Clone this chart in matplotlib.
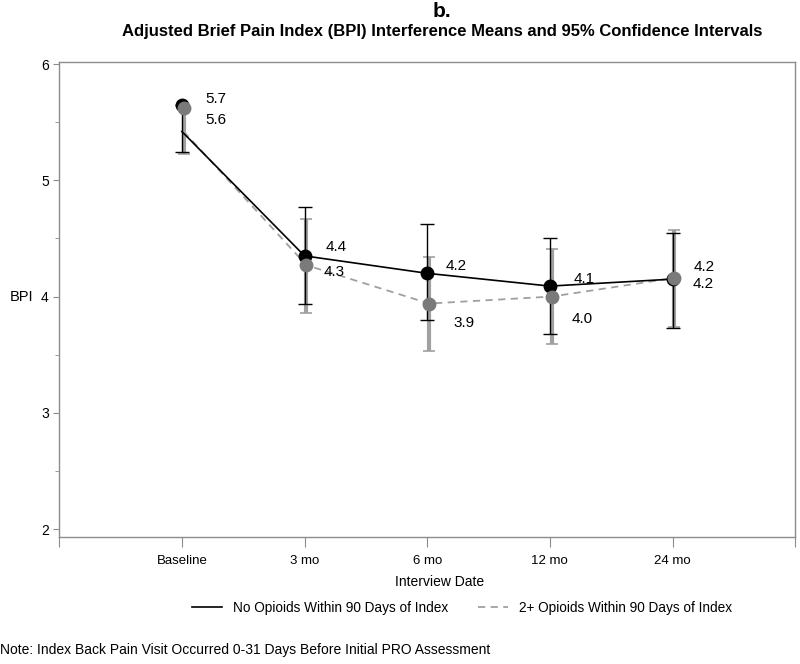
import matplotlib
matplotlib.use("Agg")
import matplotlib.pyplot as plt
from matplotlib.lines import Line2D

plt.rcParams['font.family'] = ['Liberation Sans', 'DejaVu Sans']

# data
timepoints = ["Baseline", "3 mo", "6 mo", "12 mo", "24 mo"]
x_pos = [1, 2, 3, 4, 5]

no_mean = [5.65, 4.35, 4.20, 4.09, 4.15]
no_lower = [5.24, 3.94, 3.80, 3.68, 3.73]
no_upper = [5.65, 4.77, 4.62, 4.50, 4.55]
no_line = [5.42, 4.35, 4.20, 4.09, 4.15]
no_labels = ["5.7", "4.4", "4.2", "4.1", "4.2"]

op_mean = [5.62, 4.27, 3.94, 4.00, 4.16]
op_lower = [5.23, 3.86, 3.53, 3.59, 3.74]
op_upper = [5.62, 4.67, 4.34, 4.41, 4.57]
op_line = [5.42, 4.27, 3.94, 4.00, 4.16]
op_labels = ["5.6", "4.3", "3.9", "4.0", "4.2"]

label_no = "No Opioids Within 90 Days of Index"
label_op = "2+ Opioids Within 90 Days of Index"

fig = plt.figure(figsize=(8, 6.64), dpi=100)
ax = fig.add_axes([0.074, 0.191, 0.92, 0.716])

frame_col = "#8c8c8c"
gray = "#7a7a7a"
light = "#a0a0a0"

op_x = [v + 0.015 for v in x_pos]

# error bars
ax.errorbar(op_x, op_mean,
            yerr=[[m - l for m, l in zip(op_mean, op_lower)],
                  [u - m for m, u in zip(op_mean, op_upper)]],
            fmt="none", ecolor=light, elinewidth=3, capsize=4, capthick=1.2, zorder=2)
ax.errorbar(x_pos, no_mean,
            yerr=[[m - l for m, l in zip(no_mean, no_lower)],
                  [u - m for m, u in zip(no_mean, no_upper)]],
            fmt="none", ecolor="black", elinewidth=1, capsize=5, capthick=1, zorder=3)

# connecting lines
ax.plot(op_x, op_line, color=light, lw=1.3, ls=(0, (4, 3)), zorder=3)
ax.plot(x_pos, no_line, color="black", lw=1.2, zorder=4)

# markers
ax.plot(x_pos, no_mean, "o", color="black", ms=9, zorder=5)
ax.plot(op_x, op_mean, "o", color=gray, ms=9, zorder=6)

# value labels
no_off = [(0.28, 0.05), (0.26, 0.08), (0.24, 0.06), (0.28, 0.06), (0.26, 0.10)]
op_off = [(0.28, -0.1), (0.24, -0.06), (0.30, -0.17), (0.26, -0.19), (0.25, -0.05)]
for x, y, t, (dx, dy) in zip(x_pos, no_mean, no_labels, no_off):
    ax.text(x + dx, y + dy, t, fontsize=11, ha="center", va="center", zorder=7)
for x, y, t, (dx, dy) in zip(x_pos, op_mean, op_labels, op_off):
    ax.text(x + dx, y + dy, t, fontsize=11, ha="center", va="center", zorder=7)

ax.set_xlim(0, 6)
ax.set_ylim(1.93, 6.02)
ax.set_xticks(range(0, 7))
ax.set_xticklabels([""] + timepoints + [""], fontsize=9.5)
ax.set_yticks([2, 3, 4, 5, 6])
ax.set_yticks([2.5, 3.5, 4.5, 5.5], minor=True)
ax.tick_params(axis="x", length=7, color=frame_col, pad=6)
ax.tick_params(axis="y", which="major", length=4, color=frame_col, labelsize=10)
ax.tick_params(axis="y", which="minor", length=3, color=frame_col)
for s in ax.spines.values():
    s.set_color(frame_col)
    s.set_linewidth(1)

fig.text(0.012, 0.553, "BPI", fontsize=10.5, ha="left", va="center")
fig.text(0.55, 0.124, "Interview Date", fontsize=10, ha="center", va="center")

fig.text(0.552, 0.982, "b.", fontsize=15, fontweight="bold", ha="center", va="center")
fig.text(0.553, 0.952, "Adjusted Brief Pain Index (BPI) Interference Means and 95% Confidence Intervals",
         fontsize=12, fontweight="bold", ha="center", va="center")

handles = [Line2D([], [], color="black", lw=1.2),
           Line2D([], [], color=light, lw=1.3, ls=(0, (4, 3)))]
fig.legend(handles, [label_no, label_op], loc="center", bbox_to_anchor=(0.578, 0.084),
           ncol=2, frameon=False, fontsize=9.8, handlelength=2.2, handletextpad=0.8,
           columnspacing=2.2)

fig.text(0.0, 0.011, "Note: Index Back Pain Visit Occurred 0-31 Days Before Initial PRO Assessment",
         fontsize=10, ha="left", va="bottom")

fig.savefig("out.png", dpi=100)
